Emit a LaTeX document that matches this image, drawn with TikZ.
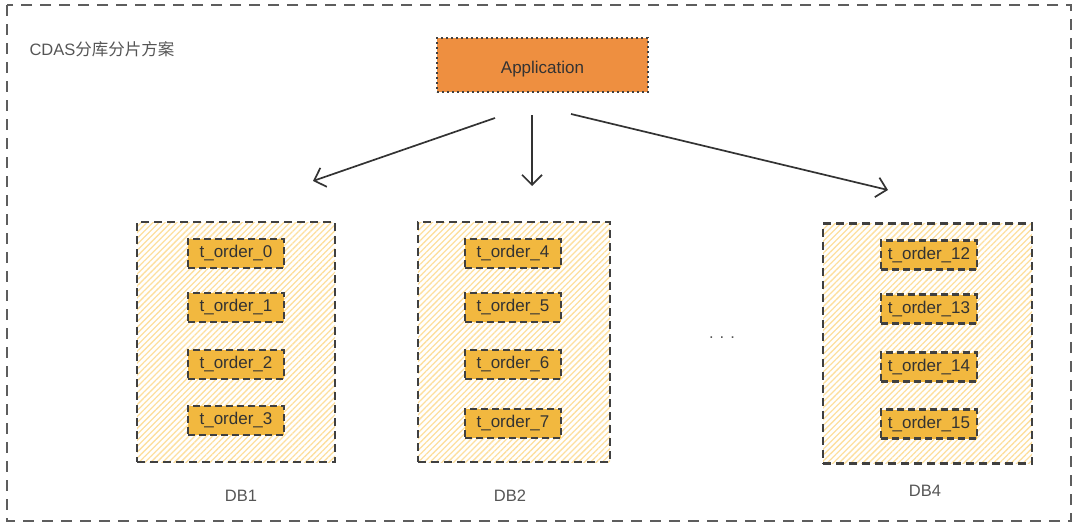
\documentclass[tikz,border=0pt]{standalone}
\usepackage{fontspec}
\setmainfont{Liberation Sans}
\newfontfamily\cjk{Noto Sans CJK SC}
\usetikzlibrary{arrows.meta,patterns.meta}
\definecolor{appfill}{HTML}{EE8F40}
\definecolor{tabfill}{HTML}{F2B83F}
\definecolor{hatch}{HTML}{FDDF9E}
\definecolor{edge}{HTML}{404040}
\definecolor{txt}{HTML}{333333}
\definecolor{lbl}{HTML}{555555}
\tikzset{
  frame/.style={draw=edge!85, line width=2pt, dash pattern=on 11pt off 8pt},
  dbbox/.style={draw=edge, line width=2.6pt, dash pattern=on 8pt off 5pt,
    pattern={Lines[angle=45,distance=4.2pt,line width=1.3pt]}, pattern color=hatch,
    minimum width=#1, minimum height=240pt, inner sep=0pt},
  tab/.style={draw=edge, fill=tabfill, line width=2.6pt, dash pattern=on 7pt off 4pt,
    minimum width=96pt, minimum height=29pt, inner sep=0pt, font=\fontsize{17}{19}\selectfont, text=txt},
  appbox/.style={draw=edge, fill=appfill, line width=2pt, dash pattern=on 2pt off 3pt,
    minimum width=211pt, minimum height=54pt, inner sep=0pt, text height=16pt, text depth=0pt,
    font=\fontsize{17}{19}\selectfont, text=txt},
  lab/.style={font=\fontsize{16.5}{19}\selectfont, text=lbl},
  arr/.style={draw=txt, line width=1.7pt, -{Straight Barb[length=10pt,width=20pt,line width=1.7pt]}}
}
\begin{document}
\begin{tikzpicture}[x=1pt,y=-1pt]
\useasboundingbox (0,0) rectangle (1080,530);
\draw[frame] (7,5) rectangle (1071,521);
\node[lab, anchor=west] (title) at (26,49) {CDAS{\cjk 分库分片方案}};
\node[appbox] (app) at (542.5,65) {Application};

\node[dbbox=198pt] (db1) at (236,342) {};
\node[dbbox=192pt] (db2) at (514,342) {};
\node[dbbox=209pt] (db4) at (927.5,343.5) {};

\node[tab] (t0) at (236,253.5) {t\_order\_0};
\node[tab] (t1) at (236,307.5) {t\_order\_1};
\node[tab] (t2) at (236,364.5) {t\_order\_2};
\node[tab] (t3) at (236,420.5) {t\_order\_3};

\node[tab] (t4) at (513,253.5) {t\_order\_4};
\node[tab] (t5) at (513,307.5) {t\_order\_5};
\node[tab] (t6) at (513,364.5) {t\_order\_6};
\node[tab] (t7) at (513,423.5) {t\_order\_7};

\node[tab] (t12) at (929,255) {t\_order\_12};
\node[tab] (t13) at (929,309) {t\_order\_13};
\node[tab] (t14) at (929,367) {t\_order\_14};
\node[tab] (t15) at (929,424) {t\_order\_15};

\node[lab] (l1) at (241,496) {DB1};
\node[lab] (l2) at (510,496) {DB2};
\node[lab] (l4) at (925,491) {DB4};
\node[lab] (dots) at (722,338) {. . .};

\coordinate (s1) at (495,118);
\coordinate (e1) at (313,181);
\coordinate (s2) at (532,115);
\coordinate (e2) at (532,186);
\coordinate (s3) at (571,114);
\coordinate (e3) at (888,190);
\draw[arr] (s1) -- (e1);
\draw[arr] (s2) -- (e2);
\draw[arr] (s3) -- (e3);
\end{tikzpicture}
\end{document}
